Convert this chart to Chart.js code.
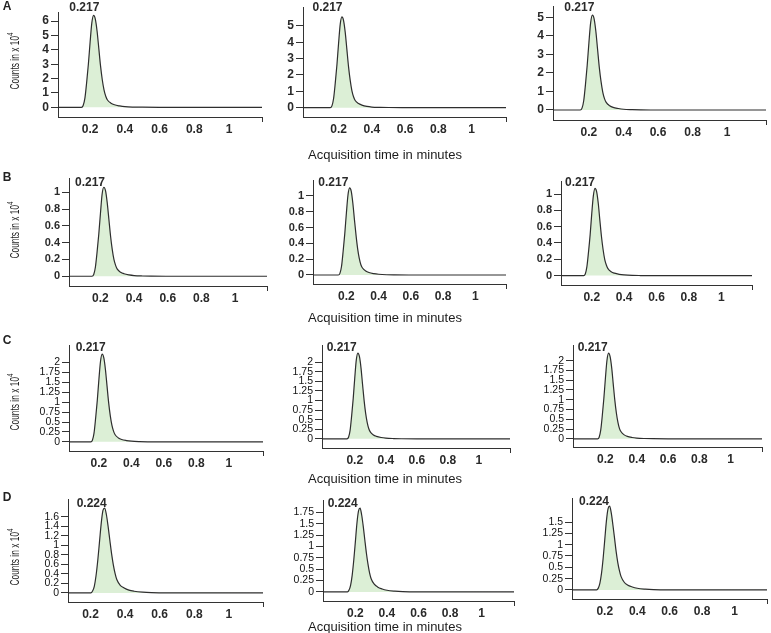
<!DOCTYPE html>
<html><head><meta charset="utf-8">
<script src="https://cdn.jsdelivr.net/npm/chart.js@4/dist/chart.umd.min.js"></script>
<style>
html,body{margin:0;padding:0;background:#fff;width:771px;height:633px;overflow:hidden;position:relative;font-family:"Liberation Sans",Arial,Helvetica,sans-serif;color:#222}
canvas{position:absolute}
.t{position:absolute;white-space:nowrap;transform:translate(-50%,-50%);line-height:1}
.peak{font-size:12px;font-weight:bold;color:#2a2a2a}
.xt{font-size:13px;color:#1c1c1c}
.lt{font-size:12px;font-weight:bold;color:#222}
.yt{font-size:12px;color:#222;transform:translate(-50%,-50%) rotate(-90deg) scaleX(0.7)}
.yt sup{font-size:9px;vertical-align:6px;line-height:0}
</style></head><body>
<script>
// ---- data (acquisition time in minutes, counts in x10^4) ----
const timeMin = [-0.02, 0.150, 0.160, 0.170, 0.180, 0.190, 0.200, 0.210, 0.220, 0.230, 0.240, 0.250, 0.260, 0.270, 0.280, 0.290, 0.300, 0.320, 0.340, 0.370, 0.400, 0.450, 0.500, 0.600, 1.250];
const countsA1 = [0,0,0.13,0.64,1.73,3.01,4.54,5.89,6.40,6.14,5.31,4.10,2.88,1.92,1.22,0.77,0.51,0.29,0.18,0.10,0.05,0.02,0.01,0,0];
const countsA2 = [0,0,0.11,0.56,1.50,2.61,3.94,5.11,5.55,5.33,4.61,3.55,2.50,1.67,1.05,0.67,0.44,0.25,0.16,0.08,0.04,0.02,0.01,0,0];
const countsA3 = [0,0,0.10,0.51,1.38,2.41,3.64,4.71,5.12,4.92,4.25,3.28,2.30,1.54,0.97,0.61,0.41,0.23,0.14,0.08,0.04,0.02,0.01,0,0];
const countsB1 = [0,0,0.02,0.11,0.29,0.50,0.75,0.98,1.06,1.02,0.88,0.68,0.48,0.32,0.20,0.13,0.085,0.048,0.03,0.016,0.008,0.003,0.001,0,0];
const countsB2 = [0,0,0.02,0.11,0.30,0.52,0.78,1.01,1.10,1.06,0.91,0.70,0.50,0.33,0.21,0.13,0.088,0.05,0.031,0.017,0.009,0.003,0.001,0,0];
const countsB3 = [0,0,0.02,0.11,0.29,0.50,0.76,0.98,1.07,1.03,0.89,0.68,0.48,0.32,0.20,0.13,0.086,0.048,0.03,0.016,0.009,0.003,0.001,0,0];
const countsC1 = [0,0,0.04,0.22,0.60,1.04,1.57,2.03,2.21,2.12,1.83,1.41,0.99,0.66,0.42,0.27,0.18,0.10,0.06,0.033,0.018,0.007,0.002,0,0];
const countsC2 = [0,0,0.04,0.22,0.60,1.05,1.59,2.06,2.24,2.15,1.86,1.43,1.01,0.67,0.43,0.27,0.18,0.10,0.063,0.034,0.018,0.007,0.002,0,0];
const countsC3 = [0,0,0.04,0.22,0.59,1.03,1.55,2.01,2.19,2.10,1.82,1.40,0.99,0.66,0.42,0.26,0.18,0.10,0.061,0.033,0.018,0.007,0.002,0,0];
const countsD1 = [0,0,0.04,0.14,0.36,0.68,1.07,1.46,1.73,1.78,1.64,1.39,1.10,0.82,0.59,0.41,0.28,0.16,0.11,0.06,0.036,0.016,0.007,0.002,0];
const countsD2 = [0,0,0.04,0.15,0.37,0.70,1.10,1.51,1.78,1.84,1.69,1.44,1.14,0.85,0.61,0.42,0.29,0.17,0.11,0.064,0.037,0.017,0.007,0.002,0];
const countsD3 = [0,0,0.04,0.15,0.37,0.70,1.11,1.52,1.79,1.85,1.70,1.44,1.15,0.85,0.61,0.43,0.30,0.17,0.11,0.065,0.037,0.017,0.007,0.002,0];

const xTickVals = [0.2, 0.4, 0.6, 0.8, 1];
const xTickLabels = ['0.2', '0.4', '0.6', '0.8', '1'];
const yTicksA = [0, 1, 2, 3, 4, 5, 6];
const yTicksA23 = [0, 1, 2, 3, 4, 5];
const yTicksB = [0, 0.2, 0.4, 0.6, 0.8, 1];
const yTicksC = [0, 0.25, 0.5, 0.75, 1, 1.25, 1.5, 1.75, 2];
const yTicksD1 = [0, 0.2, 0.4, 0.6, 0.8, 1, 1.2, 1.4, 1.6];
const yTicksD2 = [0, 0.25, 0.5, 0.75, 1, 1.25, 1.5, 1.75];
const yTicksD3 = [0, 0.25, 0.5, 0.75, 1, 1.25, 1.5];
const peakTimes = ['0.217', '0.217', '0.217', '0.224'];
const rowLetters = ['A', 'B', 'C', 'D'];
const xTitle = 'Acquisition time in minutes';

// ---- layout (pixel boxes of each plot area) ----
const panels = [
  {d:countsA1, yt:yTicksA,   L:58,    T:12,    R:262,   B:117,   ymin:-0.67, ymax:6.63, xmin:0.015, xmax:1.19,  lx:84.3,  ly:6.5,   row:0, fs:12, fw:'bold'},
  {d:countsA2, yt:yTicksA23, L:303.3, T:7,     R:506.7, B:117,   ymin:-0.57, ymax:6.16, xmin:-0.014,xmax:1.207, lx:327.5, ly:6.5,   row:0, fs:12, fw:'bold'},
  {d:countsA3, yt:yTicksA23, L:553.3, T:6,     R:766.7, B:120,   ymin:-0.54, ymax:5.61, xmin:-0.008,xmax:1.225, lx:579.3, ly:6.7,   row:0, fs:12, fw:'bold'},
  {d:countsB1, yt:yTicksB,   L:69,    T:178.3, R:266.7, B:286,   ymin:-0.116,ymax:1.17, xmin:0.013, xmax:1.19,  lx:90,    ly:181.7, row:1, fs:11, fw:'bold'},
  {d:countsB2, yt:yTicksB,   L:312.7, T:180,   R:506,   B:284,   ymin:-0.114,ymax:1.2,  xmin:-0.007,xmax:1.19,  lx:333.3, ly:181.7, row:1, fs:11, fw:'bold'},
  {d:countsB3, yt:yTicksB,   L:561,   T:180.7, R:751.7, B:284.3, ymin:-0.115,ymax:1.16, xmin:0.01,  xmax:1.19,  lx:580,   ly:181.7, row:1, fs:11, fw:'bold'},
  {d:countsC1, yt:yTicksC,   L:69,    T:345,   R:263.3, B:450.7, ymin:-0.23, ymax:2.44, xmin:0.016, xmax:1.21,  lx:90.7,  ly:347.3, row:2, fs:10.5, fw:'normal'},
  {d:countsC2, yt:yTicksC,   L:322.3, T:345,   R:510.7, B:448.3, ymin:-0.24, ymax:2.45, xmin:-0.011,xmax:1.2,   lx:341.7, ly:346.7, row:2, fs:10.5, fw:'normal'},
  {d:countsC3, yt:yTicksC,   L:572.7, T:345,   R:761.7, B:447.3, ymin:-0.21, ymax:2.4,  xmin:-0.007,xmax:1.2,   lx:592.7, ly:346.7, row:2, fs:10.5, fw:'normal'},
  {d:countsD1, yt:yTicksD1,  L:68.3,  T:499,   R:263.3, B:601.7, ymin:-0.19, ymax:1.97, xmin:0.018, xmax:1.145, lx:91.7,  ly:503.3, row:3, fs:10.5, fw:'normal', lo:-9},
  {d:countsD2, yt:yTicksD2,  L:322.7, T:500,   R:513.3, B:601,   ymin:-0.2,  ymax:2.02, xmin:-0.005,xmax:1.205, lx:342.7, ly:503.3, row:3, fs:10.5, fw:'normal'},
  {d:countsD3, yt:yTicksD3,  L:572.3, T:497.7, R:767.3, B:599,   ymin:-0.2,  ymax:2.03, xmin:-0.002,xmax:1.2,   lx:594,   ly:501,   row:3, fs:10.5, fw:'normal'}
];
const FONT = '"Liberation Sans", Arial, Helvetica, sans-serif';

function addText(cls, html, x, y) {
  const el = document.createElement('div');
  el.className = 't ' + cls;
  el.innerHTML = html;
  el.style.left = x + 'px';
  el.style.top = y + 'px';
  document.body.appendChild(el);
}

function makePanel(p) {
  const YW = 44, XH = 24, PT = 14, PR = 3;
  const w = Math.round(YW + (p.R - p.L) + PR), h = Math.round(PT + (p.B - p.T) + XH);
  const cv = document.createElement('canvas');
  cv.width = w; cv.height = h;
  cv.style.width = w + 'px'; cv.style.height = h + 'px';
  cv.style.left = Math.round(p.L - YW) + 'px';
  cv.style.top = Math.round(p.T - PT) + 'px';
  document.body.appendChild(cv);
  new Chart(cv, {
    type: 'line',
    data: {datasets: [{
      data: timeMin.map((t, i) => ({x: t, y: p.d[i]})),
      borderColor: '#2e2e2e', borderWidth: 1.2,
      backgroundColor: '#dcefd6', fill: 'origin',
      pointRadius: 0, cubicInterpolationMode: 'monotone'
    }]},
    options: {
      responsive: false, animation: false, devicePixelRatio: 1,
      layout: {padding: {left: 0, top: PT, right: PR, bottom: 0}},
      plugins: {legend: {display: false}, tooltip: {enabled: false}},
      scales: {
        x: {
          type: 'linear', min: p.xmin, max: p.xmax,
          afterFit: s => { s.height = XH; },
          afterBuildTicks: s => { s.ticks = xTickVals.map(v => ({value: v})).concat([{value: p.xmax}]); },
          grid: {drawOnChartArea: false, drawTicks: true, tickLength: 5, tickWidth: 1,
                 tickColor: c => c.index === 5 ? '#333' : 'rgba(0,0,0,0)'},
          border: {display: true, color: '#333', width: 1},
          ticks: {autoSkip: false, maxRotation: 0, minRotation: 0, padding: 0, labelOffset: p.lo || 0,
                  color: '#2a2a2a', font: {size: 12, weight: 'bold', family: FONT},
                  callback: (v, i) => i < 5 ? xTickLabels[i] : ''}
        },
        y: {
          type: 'linear', min: p.ymin, max: p.ymax,
          afterFit: s => { s.width = YW; },
          afterBuildTicks: s => { s.ticks = p.yt.map(v => ({value: v})); },
          grid: {drawOnChartArea: false, drawTicks: true, tickLength: 7, tickColor: '#333'},
          border: {display: true, color: '#333', width: 1},
          ticks: {autoSkip: false, padding: 2, color: p.fw === 'bold' ? '#2a2a2a' : '#111',
                  font: {size: p.fs, weight: p.fw, family: FONT},
                  callback: (v, i) => String(p.yt[i])}
        }
      }
    }
  });
  addText('peak', peakTimes[p.row], p.lx, p.ly);
}

panels.forEach(makePanel);

const rowLetterY = [6, 176.5, 340, 496.5];
const rowMidY = [61, 230, 402, 557];
const xTitleY = [154, 317.3, 478.3, 625.7];
rowLetters.forEach((s, i) => {
  addText('lt', s, 7, rowLetterY[i]);
  addText('yt', 'Counts in x 10<sup>4</sup>', 15, rowMidY[i]);
  addText('xt', xTitle, 385, xTitleY[i]);
});
</script>
</body></html>
